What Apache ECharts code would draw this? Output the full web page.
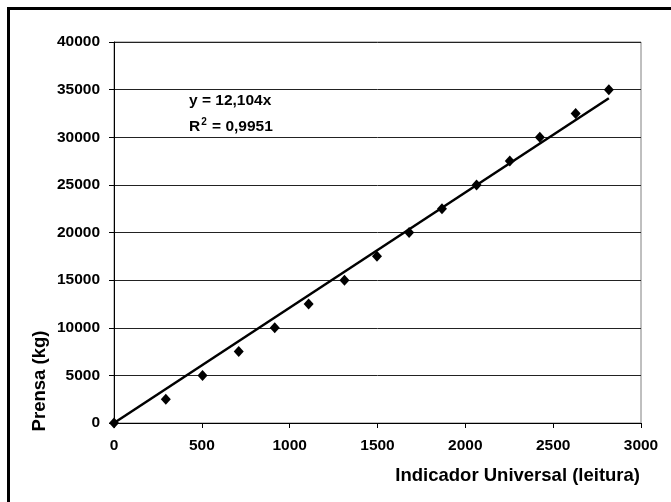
<!DOCTYPE html>
<html>
<head>
<meta charset="utf-8">
<script src="https://cdn.jsdelivr.net/npm/echarts@6/dist/echarts.min.js"></script>
<style>
  html, body { margin: 0; padding: 0; background: #fff; }
  #chart { width: 671px; height: 502px; }
</style>
</head>
<body>
<div id="chart"></div>
<script>
// leituras do indicador e carga da prensa
const leituras = [0, 295, 504, 710, 915, 1108, 1312, 1497, 1680, 1867, 2064, 2253, 2424, 2628, 2817];
const cargas = [0, 2500, 5000, 7500, 10000, 12500, 15000, 17500, 20000, 22500, 25000, 27500, 30000, 32500, 35000];
const xTicks = [0, 500, 1000, 1500, 2000, 2500, 3000];
const yTicks = [0, 5000, 10000, 15000, 20000, 25000, 30000, 35000, 40000];
const equacao = "y = 12,104x";
const r2 = "0,9951";

const chart = echarts.init(document.getElementById("chart"));

// linha de tendencia pela origem (minimos quadrados)
let sxy = 0, sxx = 0;
leituras.forEach((x, i) => { sxy += x * cargas[i]; sxx += x * x; });
const slope = sxy / sxx;
const xMax = Math.max(...leituras);
const trend = [[0, 0], [xMax, slope * xMax]];

const font = "Liberation Sans, Arial, sans-serif";

const option = {
  animation: false,
  grid: {
    left: 114,
    right: 30,
    top: 42,
    bottom: 79,
    show: true,
    borderColor: "#808080",
    borderWidth: 1,
  },
  xAxis: {
    type: "value",
    min: xTicks[0],
    max: xTicks[xTicks.length - 1],
    interval: 500,
    axisLine: { show: true, onZero: false, lineStyle: { color: "#000", width: 1 } },
    axisTick: { show: true, inside: false, length: 5, lineStyle: { color: "#000" } },
    axisLabel: {
      color: "#000", fontWeight: "bold", fontSize: 15.5, fontFamily: font, margin: 15,
      formatter: (v) => String(v),
    },
    splitLine: { show: false },
  },
  yAxis: {
    type: "value",
    min: yTicks[0],
    max: yTicks[yTicks.length - 1],
    interval: 5000,
    axisLine: { show: true, onZero: false, lineStyle: { color: "#000", width: 1 } },
    axisTick: { show: true, inside: false, length: 5, lineStyle: { color: "#000" } },
    axisLabel: {
      color: "#000", fontWeight: "bold", fontSize: 15.5, fontFamily: font, margin: 14,
      formatter: (v) => String(v),
    },
    splitLine: { show: true, lineStyle: { color: "#222", width: 1 } },
  },
  series: [
    {
      type: "line",
      data: trend,
      symbol: "none",
      lineStyle: { color: "#000", width: 2.5 },
      z: 2,
    },
    {
      type: "scatter",
      data: leituras.map((x, i) => [x, cargas[i]]),
      symbol: "diamond",
      symbolSize: [10, 11],
      itemStyle: { color: "#000", opacity: 1 },
      z: 3,
    },
  ],
  graphic: [
    {
      type: "polyline",
      shape: { points: [[8.5, 520], [8.5, 8.5], [700, 8.5]] },
      style: { stroke: "#000", lineWidth: 3, fill: null },
    },
    {
      type: "text",
      x: 40,
      y: 381,
      rotation: Math.PI / 2,
      style: {
        text: "Prensa (kg)",
        font: "bold 18.5px " + font,
        fill: "#000",
        align: "center",
        verticalAlign: "middle",
      },
    },
    {
      type: "text",
      x: 640,
      y: 476,
      style: {
        text: "Indicador Universal (leitura)",
        font: "bold 18.5px " + font,
        fill: "#000",
        align: "right",
        verticalAlign: "middle",
      },
    },
    {
      type: "text",
      x: 189,
      y: 101,
      style: {
        text: equacao,
        font: "bold 15.5px " + font,
        fill: "#000",
        align: "left",
        verticalAlign: "middle",
      },
    },
    {
      type: "text",
      x: 189,
      y: 126,
      style: {
        text: "{a|R}{s|2}{a| = " + r2 + "}",
        align: "left",
        verticalAlign: "middle",
        rich: {
          a: { font: "bold 15.5px " + font, fill: "#000", verticalAlign: "bottom" },
          s: { font: "bold 10px " + font, fill: "#000", verticalAlign: "top", padding: [0, 1, 8, 1] },
        },
      },
    },
  ],
};

chart.setOption(option);
</script>
</body>
</html>
